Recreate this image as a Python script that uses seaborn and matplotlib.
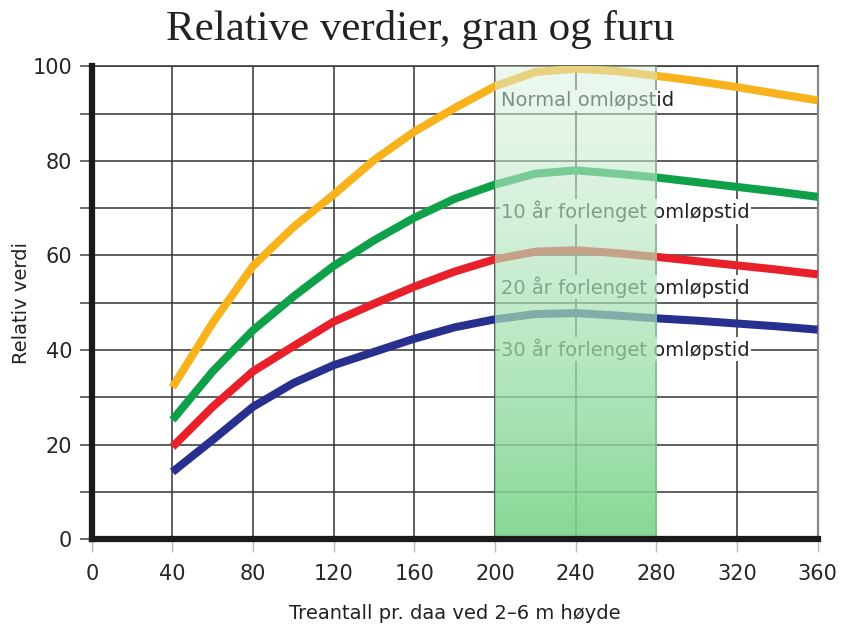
import numpy as np
import pandas as pd
import matplotlib
matplotlib.use("Agg")
import matplotlib.pyplot as plt
import seaborn as sns

# ---- data ----
treantall = [40, 60, 80, 100, 120, 140, 160, 180, 200, 220, 240, 260, 280, 300, 320, 340, 360]
normal = [32.1, 45.8, 57.8, 66.0, 72.9, 80.2, 86.2, 91.2, 95.8, 98.8, 99.5, 99.0, 98.0, 96.9, 95.6, 94.2, 92.8]
ar10 = [25.2, 35.5, 44.2, 51.3, 57.8, 63.2, 68.0, 72.0, 75.0, 77.3, 78.0, 77.3, 76.5, 75.5, 74.5, 73.5, 72.4]
ar20 = [19.5, 28.0, 35.5, 40.8, 46.0, 49.8, 53.4, 56.6, 59.2, 60.8, 61.1, 60.5, 59.7, 58.8, 57.9, 57.0, 56.0]
ar30 = [14.2, 21.0, 28.0, 33.0, 36.8, 39.6, 42.4, 44.8, 46.5, 47.6, 47.8, 47.3, 46.7, 46.2, 45.6, 45.0, 44.3]
series_names = ["Normal omløpstid", "10 år forlenget omløpstid",
                "20 år forlenget omløpstid", "30 år forlenget omløpstid"]
label_y = [92.8, 69.3, 53.3, 40.2]
band = [200, 280]
x_ticks = [0, 40, 80, 120, 160, 200, 240, 280, 320, 360]
y_ticks_major = [0, 20, 40, 60, 80, 100]

colors = ["#F8B31C", "#0FA14A", "#E8202A", "#27308E"]

df = pd.concat([
    pd.DataFrame({"x": treantall, "y": vals, "serie": name})
    for name, vals in zip(series_names, [normal, ar10, ar20, ar30])
])

sns.set_style("white")
plt.rcParams["font.family"] = ["DejaVu Sans"]

fig = plt.figure(figsize=(8.5, 6.32), dpi=100)
ax = fig.add_axes([0.108, 0.147, 0.854, 0.748])

sns.lineplot(data=df, x="x", y="y", hue="serie", palette=colors, ax=ax,
             linewidth=5.8, legend=False, zorder=3)
for ln in ax.lines:
    ln.set_solid_capstyle("butt")
    ln.set_solid_joinstyle("round")

# gradient band drawn over lines and labels
n = 200
t = np.linspace(0, 1, n)[:, None]  # 0 at top, 1 at bottom
top = np.array([0.86, 0.95, 0.88])
bot = np.array([0.47, 0.83, 0.54])
rgb = top * (1 - t) + bot * t
alpha = 0.50 + 0.40 * t
img = np.concatenate([rgb, alpha], axis=1)[:, None, :]
ax.imshow(img, extent=[band[0], band[1], 0, 100], aspect="auto",
          origin="upper", zorder=5, interpolation="bilinear")

# labels
for name, yv in zip(series_names, label_y):
    ax.text(203, yv, name, fontsize=14, color="#222222", va="center", ha="left",
            zorder=4, bbox=dict(facecolor="white", edgecolor="none", pad=1.0))

ax.set_xlim(0, 360)
ax.set_ylim(0, 100)
ax.set_xticks(x_ticks)
ax.set_xticklabels([str(v) for v in x_ticks])
ax.set_yticks(list(range(0, 101, 10)))
ax.set_yticklabels([str(v) if v in y_ticks_major else "" for v in range(0, 101, 10)])

ax.grid(True, color="#333333", linewidth=1.1)
ax.set_axisbelow(True)

ax.tick_params(axis="y", direction="out", length=9, width=1.1, color="#444444",
               labelsize=15, pad=5, left=True)
ax.tick_params(axis="x", direction="out", length=9, width=1.0, color="#bbbbbb",
               labelsize=15, pad=9, bottom=True)

for s in ["left", "bottom"]:
    ax.spines[s].set_linewidth(4.5)
    ax.spines[s].set_color("#1a1a1a")
    ax.spines[s].set_zorder(6)
ax.spines["top"].set_linewidth(1.1)
ax.spines["top"].set_color("#333333")
ax.spines["right"].set_linewidth(1.6)
ax.spines["right"].set_color("#888888")

ax.set_xlabel("Treantall pr. daa ved 2–6 m høyde", fontsize=14, labelpad=14, color="#222222")
ax.set_ylabel("Relativ verdi", fontsize=14, labelpad=1, color="#222222")

fig.text(0.495, 0.954, "Relative verdier, gran og furu", ha="center", va="center",
         fontsize=31, family=["Liberation Serif", "DejaVu Serif"], color="#222222")

fig.savefig("out.png", dpi=100)
